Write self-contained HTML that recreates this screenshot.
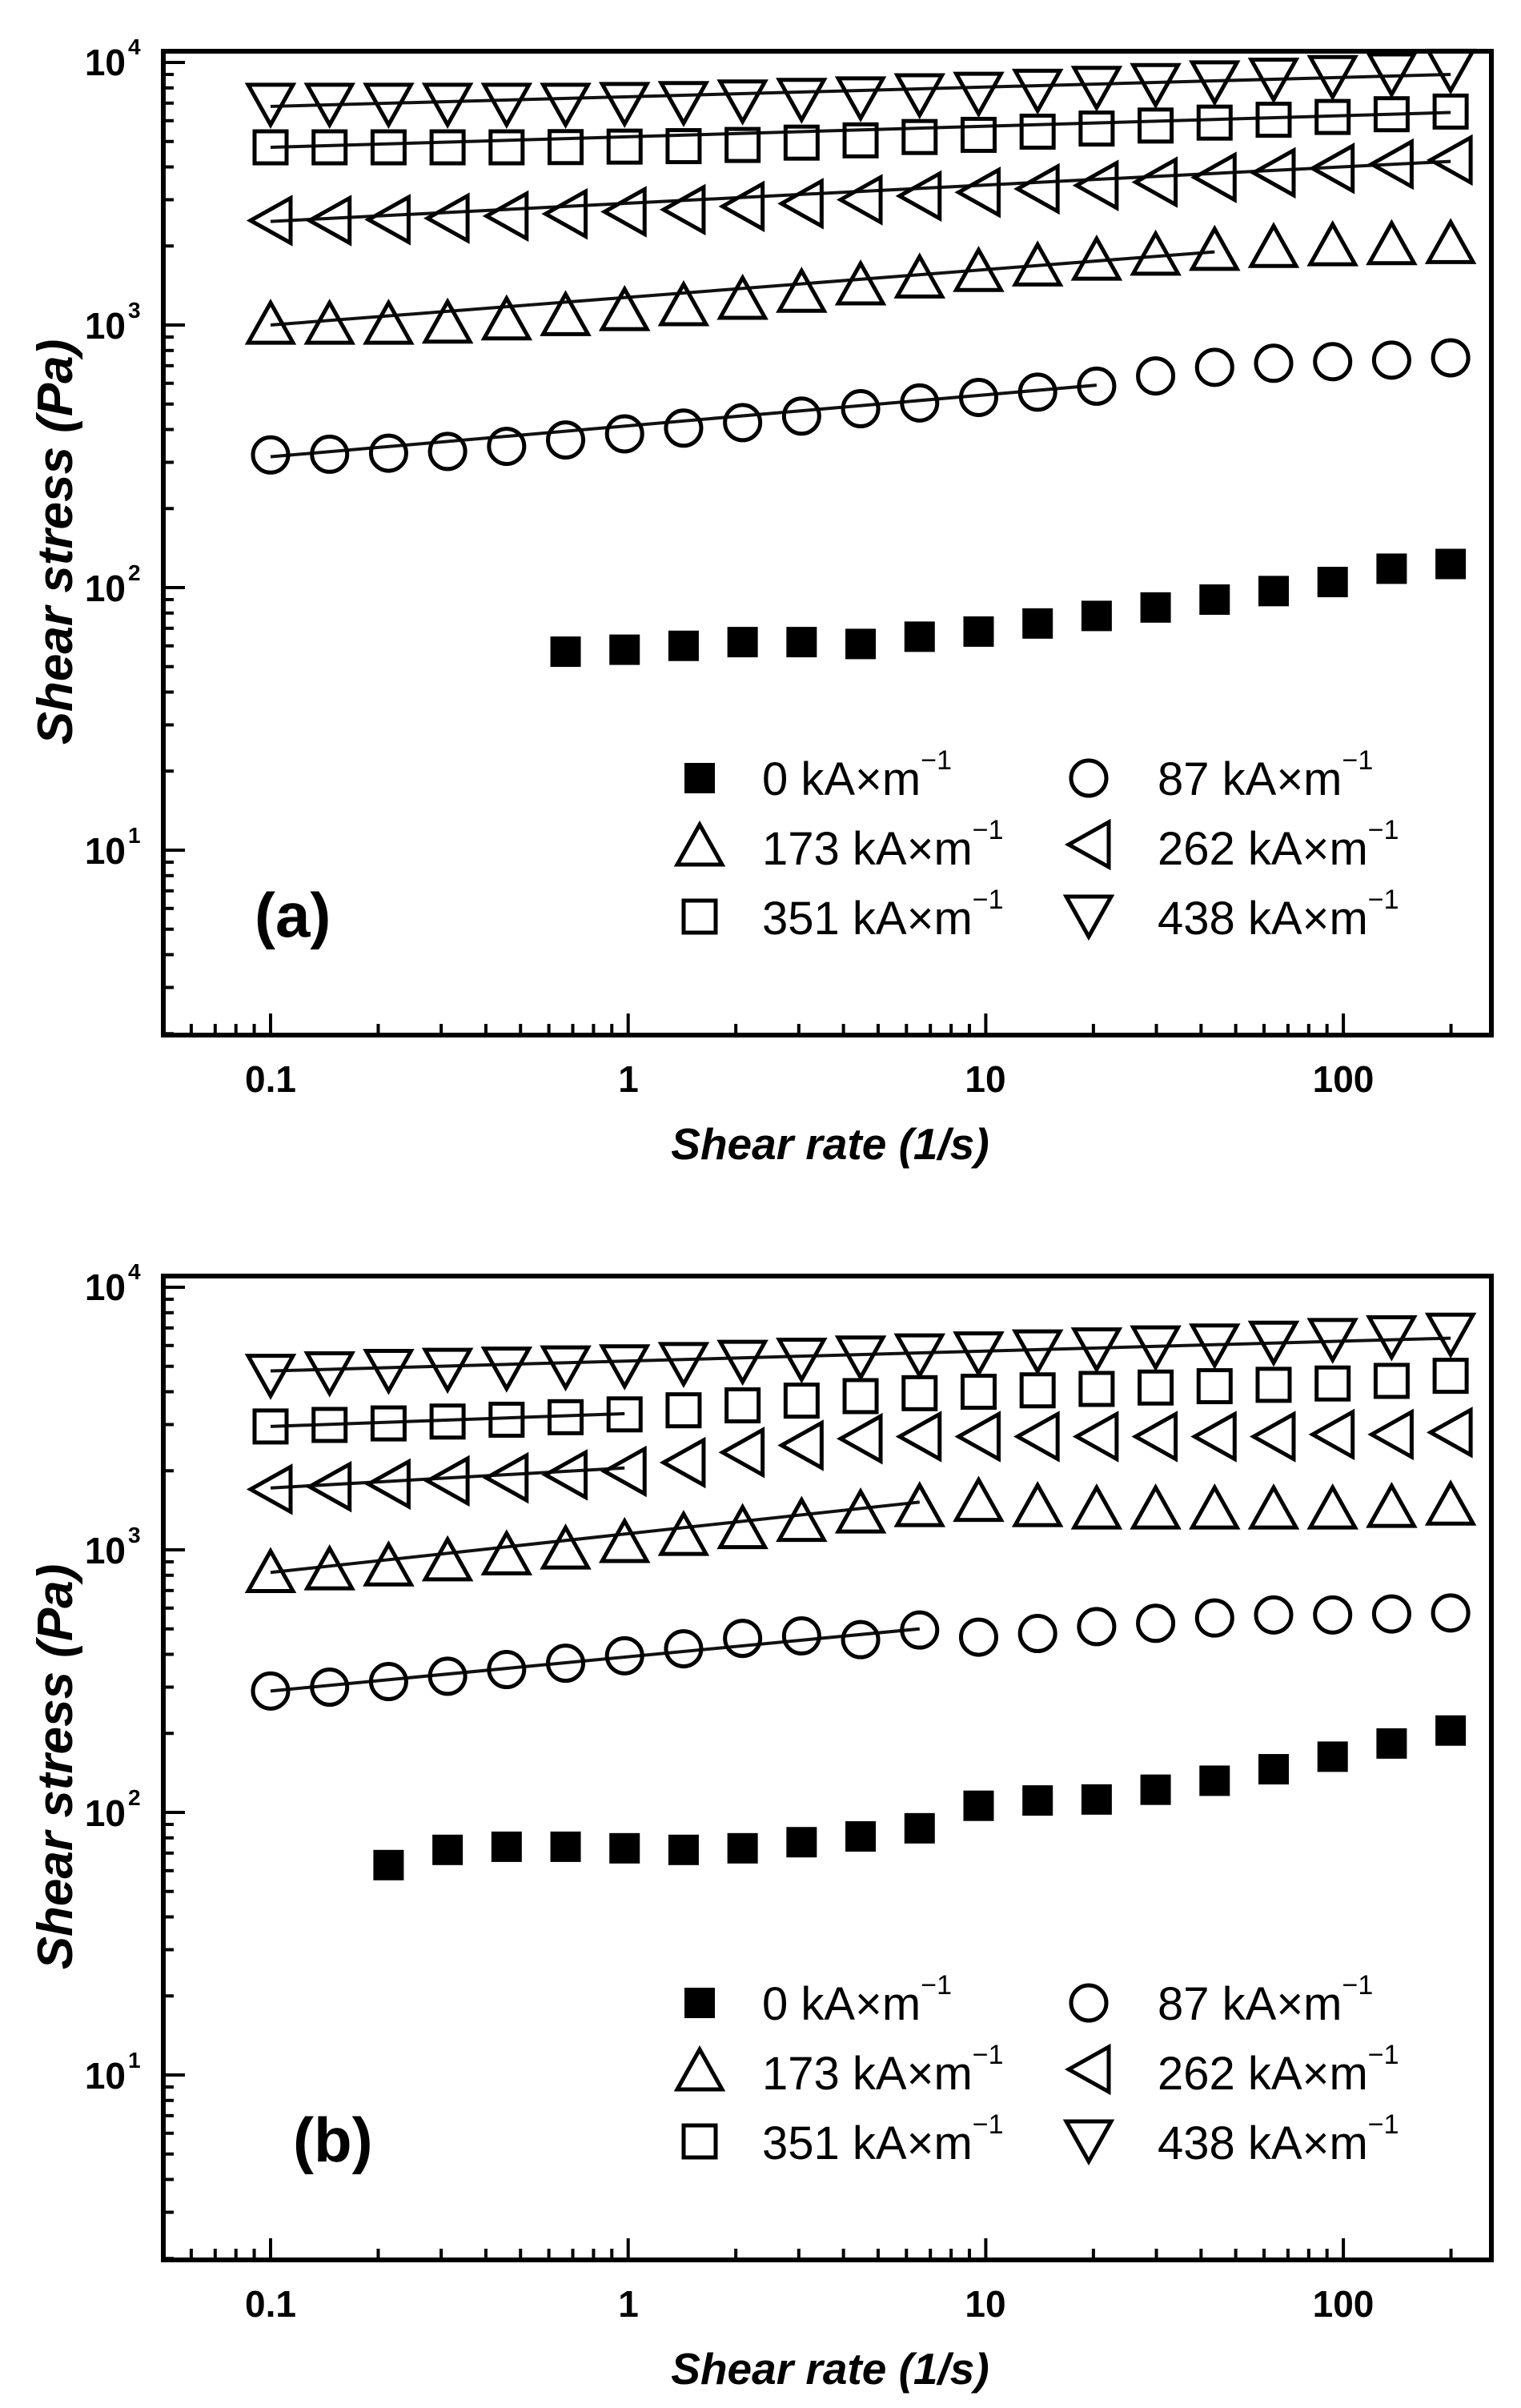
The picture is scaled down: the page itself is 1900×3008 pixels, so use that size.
<!DOCTYPE html>
<html><head><meta charset="utf-8"><style>
html,body{margin:0;padding:0;background:#fff;}
svg{display:block;}
text{font-family:"Liberation Sans",Arial,sans-serif;fill:#000;}
</style></head><body>
<svg id="s" width="1900" height="3008" viewBox="0 0 1900 3008" xmlns="http://www.w3.org/2000/svg">
<rect width="1900" height="3008" fill="#fff"/>
<g id="plots"></g>
<!-- Panel a text -->
<g font-weight="bold" font-size="46">
<text x="157" y="94" text-anchor="end">10</text><text x="160" y="68" font-size="28">4</text>
<text x="157" y="423" text-anchor="end">10</text><text x="160" y="397" font-size="28">3</text>
<text x="157" y="751" text-anchor="end">10</text><text x="160" y="725" font-size="28">2</text>
<text x="157" y="1079" text-anchor="end">10</text><text x="160" y="1053" font-size="28">1</text>
<text x="338" y="1364" text-anchor="middle">0.1</text>
<text x="785" y="1364" text-anchor="middle">1</text>
<text x="1231" y="1364" text-anchor="middle">10</text>
<text x="1678" y="1364" text-anchor="middle">100</text>
</g>
<text x="1037" y="1448" font-size="55" font-weight="bold" font-style="italic" text-anchor="middle">Shear rate (1/s)</text>
<text transform="translate(90,677) rotate(-90)" font-size="62" font-weight="bold" font-style="italic" text-anchor="middle">Shear stress (Pa)</text>
<text x="318" y="1170" font-size="78" font-weight="bold">(a)</text>
<g font-size="58">
<text x="952" y="993">0 kA×m<tspan font-size="34" dy="-32">−1</tspan></text>
<text x="1446" y="993">87 kA×m<tspan font-size="34" dy="-32">−1</tspan></text>
<text x="952" y="1080">173 kA×m<tspan font-size="34" dy="-32">−1</tspan></text>
<text x="1446" y="1080">262 kA×m<tspan font-size="34" dy="-32">−1</tspan></text>
<text x="952" y="1167">351 kA×m<tspan font-size="34" dy="-32">−1</tspan></text>
<text x="1446" y="1167">438 kA×m<tspan font-size="34" dy="-32">−1</tspan></text>
</g>
<!-- Panel b text -->
<g font-weight="bold" font-size="46">
<text x="157" y="1624" text-anchor="end">10</text><text x="160" y="1598" font-size="28">4</text>
<text x="157" y="1953" text-anchor="end">10</text><text x="160" y="1927" font-size="28">3</text>
<text x="157" y="2281" text-anchor="end">10</text><text x="160" y="2255" font-size="28">2</text>
<text x="157" y="2609" text-anchor="end">10</text><text x="160" y="2583" font-size="28">1</text>
<text x="338" y="2894" text-anchor="middle">0.1</text>
<text x="785" y="2894" text-anchor="middle">1</text>
<text x="1231" y="2894" text-anchor="middle">10</text>
<text x="1678" y="2894" text-anchor="middle">100</text>
</g>
<text x="1037" y="2978" font-size="55" font-weight="bold" font-style="italic" text-anchor="middle">Shear rate (1/s)</text>
<text transform="translate(90,2207) rotate(-90)" font-size="62" font-weight="bold" font-style="italic" text-anchor="middle">Shear stress (Pa)</text>
<text x="366" y="2700" font-size="78" font-weight="bold">(b)</text>
<g font-size="58">
<text x="952" y="2523">0 kA×m<tspan font-size="34" dy="-32">−1</tspan></text>
<text x="1446" y="2523">87 kA×m<tspan font-size="34" dy="-32">−1</tspan></text>
<text x="952" y="2610">173 kA×m<tspan font-size="34" dy="-32">−1</tspan></text>
<text x="1446" y="2610">262 kA×m<tspan font-size="34" dy="-32">−1</tspan></text>
<text x="952" y="2697">351 kA×m<tspan font-size="34" dy="-32">−1</tspan></text>
<text x="1446" y="2697">438 kA×m<tspan font-size="34" dy="-32">−1</tspan></text>
</g>
</svg>
<script>
(function(){
var g=document.getElementById("plots"),out="";
function X(v){return 338+446.7*Math.log10(v/0.1);}
function Yf(off){return function(v){return 78+off+328*(4-Math.log10(v));};}
var xs=[];for(var i=0;i<21;i++)xs.push(0.1*Math.pow(10,i*0.165));
function mk(type,x,y){
 var sw=5;
 if(type=="fs")return '<rect x="'+(x-19)+'" y="'+(y-19)+'" width="38" height="38" fill="#000"/>';
 if(type=="c")return '<circle cx="'+x+'" cy="'+y+'" r="22" fill="none" stroke="#000" stroke-width="'+sw+'"/>';
 if(type=="s")return '<rect x="'+(x-20)+'" y="'+(y-20)+'" width="40" height="40" fill="none" stroke="#000" stroke-width="'+sw+'"/>';
 var w=28,h=25,p;
 if(type=="u")p=[[x,y-h],[x+w,y+h],[x-w,y+h]];
 if(type=="d")p=[[x,y+h],[x+w,y-h],[x-w,y-h]];
 if(type=="l")p=[[x-h,y],[x+h,y-w],[x+h,y+w]];
 return '<polygon points="'+p.map(function(q){return q.join(",")}).join(" ")+'" fill="none" stroke="#000" stroke-width="'+sw+'" stroke-linejoin="miter"/>';
}
function panel(off,series,fits){
 var Y=Yf(off),top=64+off,bot=1293+off,L=204,R=1863;
 fits.forEach(function(f){out+='<line x1="'+X(xs[f[0]])+'" y1="'+Y(f[1])+'" x2="'+X(xs[f[2]])+'" y2="'+Y(f[3])+'" stroke="#111" stroke-width="4"/>';});
 series.forEach(function(s){s.v.forEach(function(v,k){out+=mk(s.t,X(xs[s.s+k]),Y(v));});});
 for(var d=-2;d<=3;d++)for(var m=1;m<10;m++){var v=m*Math.pow(10,d);if(v<0.05||v>260)continue;var x=X(v),len=m==1?27:14;
  out+='<line x1="'+x+'" y1="'+bot+'" x2="'+x+'" y2="'+(bot-len)+'" stroke="#000" stroke-width="4"/>';}
 for(var d=0;d<=4;d++)for(var m=1;m<10;m++){var v=m*Math.pow(10,d);if(v<2||v>10900)continue;var y=Y(v),len=m==1?27:13;
  out+='<line x1="'+L+'" y1="'+y+'" x2="'+(L+len)+'" y2="'+y+'" stroke="#000" stroke-width="4"/>';}
 out+='<rect x="'+L+'" y="'+top+'" width="'+(R-L)+'" height="'+(bot-top)+'" fill="none" stroke="#000" stroke-width="6"/>';
 out+=mk("fs",874,972+off)+mk("c",1360,972+off)+mk("u",874,1055+off)+mk("l",1360,1055+off)+mk("s",874,1145+off)+mk("d",1360,1145+off);
}
panel(0,[
 {t:"d",s:0,v:[6900,6900,6900,6900,6900,6900,6950,7000,7100,7200,7300,7500,7600,7800,8000,8200,8400,8600,8800,9000,9300]},
 {t:"s",s:0,v:[4750,4750,4750,4750,4750,4760,4780,4800,4850,4950,5050,5200,5300,5450,5600,5750,5900,6050,6200,6350,6500]},
 {t:"l",s:0,v:[2500,2500,2520,2550,2600,2650,2700,2750,2830,2900,3000,3100,3200,3300,3400,3500,3650,3800,3950,4100,4250]},
 {t:"u",s:0,v:[1020,1020,1020,1030,1060,1100,1150,1200,1270,1350,1440,1530,1620,1700,1790,1870,1950,2000,2030,2050,2070]},
 {t:"c",s:0,v:[320,322,325,330,345,365,385,405,425,450,480,505,530,555,585,640,690,715,725,735,750]},
 {t:"fs",s:5,v:[57,58,60,62,62,61,65,68,73,78,84,90,97,105,118,123]}
],[[0,6800,20,9000],[0,4750,20,6450],[0,2480,20,4200],[0,1000,16,1900],[0,315,14,590]]);
panel(1530,[
 {t:"d",s:0,v:[4600,4700,4800,4850,4900,4950,5000,5100,5200,5300,5400,5500,5600,5700,5800,5900,6000,6150,6300,6450,6600]},
 {t:"s",s:0,v:[2950,2990,3030,3080,3130,3200,3280,3400,3550,3700,3850,3950,4000,4050,4100,4150,4200,4250,4300,4400,4600]},
 {t:"l",s:0,v:[1700,1740,1780,1830,1880,1930,1990,2150,2350,2500,2650,2700,2700,2700,2700,2700,2700,2700,2750,2750,2800]},
 {t:"u",s:0,v:[830,850,880,920,970,1020,1080,1150,1220,1300,1400,1480,1550,1480,1450,1450,1450,1450,1450,1470,1500]},
 {t:"c",s:0,v:[290,300,315,330,350,370,395,420,460,470,455,495,465,480,510,525,550,565,565,570,575]},
 {t:"fs",s:2,v:[63,72,74,74,73,72,73,77,81,87,106,111,112,122,132,146,163,183,205]}
],[[0,4800,20,6400],[0,2950,6,3300],[0,1720,6,2050],[0,820,11,1520],[0,290,11,500]]);
g.innerHTML=out;
})();
</script>
</body></html>
